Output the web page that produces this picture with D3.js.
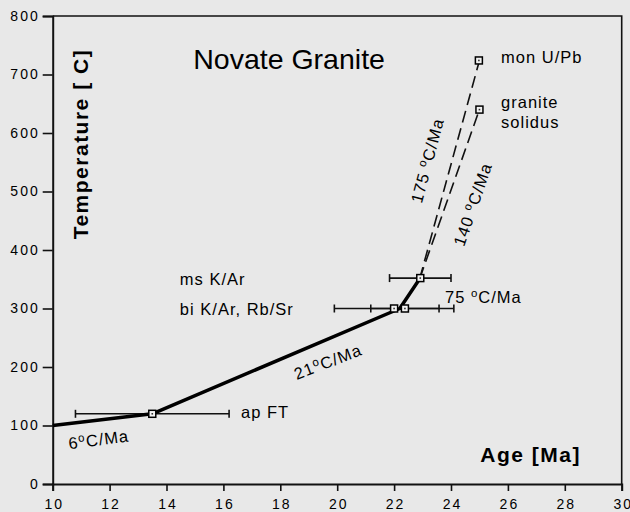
<!DOCTYPE html>
<html>
<head>
<meta charset="utf-8">
<script src="https://cdn.jsdelivr.net/npm/d3@7"></script>
<style>
  html, body { margin: 0; padding: 0; background: #e8e8e8; }
  svg { display: block; }
  text { font-family: "Liberation Sans", Arial, Helvetica, sans-serif; fill: #000; }
</style>
</head>
<body>
<svg id="chart" width="630" height="512"></svg>
<script>
// ---------------- DATA ----------------
const xTicksMajor = [10, 12, 14, 16, 18, 20, 22, 24, 26, 28, 30];
const xTicksMinor = [11, 13, 15, 17, 19, 21, 23, 25, 27, 29];
const yTicksMajor = [0, 100, 200, 300, 400, 500, 600, 700, 800];
const yTicksMinor = [25, 50, 75, 125, 150, 175, 225, 250, 275, 325, 350, 375, 425, 450, 475,
                     525, 550, 575, 625, 650, 675, 725, 750, 775];

// cooling path (thick solid line)
const pathAges  = [10, 13.5, 22.2, 22.9];
const pathTemps = [100, 120, 300, 351];

// dashed extrapolations
const monAges  = [22.9, 25.0];
const monTemps = [351, 724];
const solAges  = [22.9, 25.0];
const solTemps = [351, 640];

// dated points with error bars (age ± err)
const pointNames = ["ap FT", "bi K/Ar", "Rb/Sr", "ms K/Ar", "mon U/Pb", "granite solidus"];
const pointAges  = [13.5, 22.0, 22.38, 22.92, 24.98, 25.0];
const pointTemps = [120, 300, 300, 352, 724, 640];
const pointErrs  = [2.7, 2.1, 1.2, 1.08, 0, 0];

// annotations
const labelTexts = ["ms K/Ar", "bi K/Ar, Rb/Sr", "ap FT", "mon U/Pb", "granite", "solidus", "Novate Granite", "Age [Ma]"];
const labelAges  = [14.47, 14.47, 16.62, 25.76, 25.76, 25.76, 14.94, 25.03];
const labelTemps = [340, 289, 112, 720, 643, 609, 709, 37];

const rateTexts  = ["6", "21", "75 ", "175 ", "140 "];
const rateAges   = [10.58, 18.58, 23.79, 22.97, 24.46];
const rateTemps  = [59.3, 177.8, 309, 478.6, 404.6];
const rateAngles = [-7.5, -21, 0, -75, -71];

// ---------------- CHART ----------------
const svg = d3.select("#chart");
const W = 630, H = 512;
svg.append("rect").attr("width", W).attr("height", H).attr("fill", "#e8e8e8");

const x = d3.scaleLinear().domain([10, 30]).range([52.7, 621.7]);
const y = d3.scaleLinear().domain([0, 800]).range([484, 16]);

// frame (top + right)
svg.append("path")
  .attr("d", `M${x(10)},${y(800)}H${x(30)}V${y(0)}`)
  .attr("fill", "none").attr("stroke", "#111").attr("stroke-width", 1.6);

// axes
const gx = svg.append("g").attr("transform", `translate(0,${y(0)})`);
gx.call(d3.axisBottom(x).tickValues(xTicksMinor).tickSize(4).tickFormat(""));
gx.call(d3.axisBottom(x).tickValues(xTicksMajor).tickSize(7).tickPadding(8).tickFormat(d3.format("d")));
gx.selectAll("path.domain").attr("stroke", "#111").attr("stroke-width", 2);
gx.selectAll("line").attr("stroke", "#111").attr("stroke-width", 1.6);
gx.selectAll("text").attr("font-size", 14).attr("letter-spacing", 2).attr("fill", "#000")
  .attr("font-family", "Liberation Sans, Arial, sans-serif").attr("dx", 1);

const gy = svg.append("g").attr("transform", `translate(${x(10)},0)`);
gy.call(d3.axisLeft(y).tickValues(yTicksMinor).tickSize(5).tickFormat(""));
gy.call(d3.axisLeft(y).tickValues(yTicksMajor).tickSize(10).tickPadding(3).tickFormat(d3.format("d")));
gy.selectAll("path.domain").attr("stroke", "#111").attr("stroke-width", 2);
gy.selectAll("line").attr("stroke", "#111").attr("stroke-width", 1.6);
gy.selectAll("text").attr("font-size", 14).attr("letter-spacing", 2).attr("fill", "#000")
  .attr("font-family", "Liberation Sans, Arial, sans-serif");

const line = d3.line().x(d => x(d[0])).y(d => y(d[1]));

// error bars
const pts = pointAges.map((a, i) => ({ name: pointNames[i], age: a, temp: pointTemps[i], err: pointErrs[i] }));
const eb = svg.append("g").attr("stroke", "#111").attr("stroke-width", 1.6);
pts.filter(p => p.err > 0).forEach(p => {
  eb.append("line").attr("x1", x(p.age - p.err)).attr("x2", x(p.age + p.err))
    .attr("y1", y(p.temp)).attr("y2", y(p.temp));
  [p.age - p.err, p.age + p.err].forEach(e => {
    eb.append("line").attr("x1", x(e)).attr("x2", x(e))
      .attr("y1", y(p.temp) - 4).attr("y2", y(p.temp) + 4);
  });
});

// dashed lines
[[monAges, monTemps], [solAges, solTemps]].forEach(([a, t]) => {
  svg.append("path").datum(a.map((v, i) => [v, t[i]])).attr("d", line)
    .attr("fill", "none").attr("stroke", "#111").attr("stroke-width", 1.6)
    .attr("stroke-dasharray", "12,6");
});

// thick cooling path
svg.append("path").datum(pathAges.map((v, i) => [v, pathTemps[i]])).attr("d", line)
  .attr("fill", "none").attr("stroke", "#000").attr("stroke-width", 3.5)
  .attr("stroke-linejoin", "round");

// point markers
const mk = svg.append("g");
pts.forEach(p => {
  mk.append("rect").attr("x", x(p.age) - 3.5).attr("y", y(p.temp) - 3.5)
    .attr("width", 7).attr("height", 7).attr("fill", "#f2f2f2")
    .attr("stroke", "#000").attr("stroke-width", 1.5);
  mk.append("rect").attr("x", x(p.age) - 0.8).attr("y", y(p.temp) - 0.8)
    .attr("width", 1.6).attr("height", 1.6).attr("fill", "#333");
});

// labels
const lblStyle = [
  [16.5, 1, "normal"], [16.5, 1, "normal"], [16.5, 1, "normal"], [16.5, 1, "normal"],
  [16.5, 1, "normal"], [16.5, 1, "normal"], [28.5, 0, "normal"], [21, 1.5, "bold"]
];
labelTexts.forEach((t, i) => {
  svg.append("text").attr("x", x(labelAges[i])).attr("y", y(labelTemps[i]))
    .attr("font-size", lblStyle[i][0]).attr("letter-spacing", lblStyle[i][1])
    .attr("font-weight", lblStyle[i][2]).text(t);
});

// y-axis title (inside plot)
svg.append("text")
  .attr("transform", `translate(${x(11.24)},${y(581)}) rotate(-90)`)
  .attr("text-anchor", "middle").attr("font-size", 21).attr("font-weight", "bold")
  .attr("letter-spacing", 1.5).text("Temperature [ C]");

// rate labels
rateTexts.forEach((t, i) => {
  const txt = svg.append("text")
    .attr("transform", `translate(${x(rateAges[i])},${y(rateTemps[i])}) rotate(${rateAngles[i]})`)
    .attr("font-size", 16.5).attr("letter-spacing", 1);
  txt.append("tspan").text(t);
  txt.append("tspan").attr("font-size", 11.5).attr("dy", -6).text("o");
  txt.append("tspan").attr("dy", 6).text("C/Ma");
});
</script>
</body>
</html>
